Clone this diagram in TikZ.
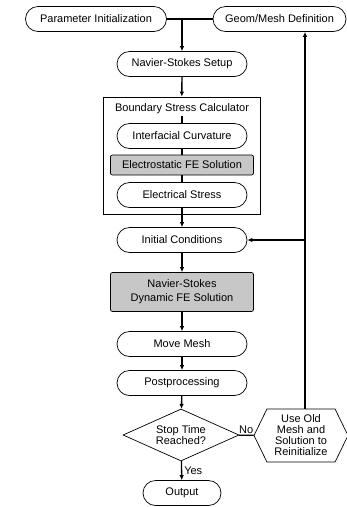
\documentclass[tikz,border=0pt]{standalone}
\usepackage{fontspec}
\setmainfont{Liberation Sans}
\usetikzlibrary{shapes.geometric,shapes.symbols,arrows.meta}

\tikzset{
  term/.style={draw, rounded corners=12.5pt, minimum width=130pt, minimum height=25pt, inner sep=0pt},
  solver/.style={draw, fill=black!22, rounded corners=2pt, minimum width=143pt, inner sep=0pt},
  flow/.style={line width=1.3pt},
  arr/.style={flow, -{Latex[length=5pt,width=4.5pt]}}
}

\begin{document}
\begin{tikzpicture}[x=1pt, y=-1pt, line width=0.7pt, font=\fontsize{11}{12}\selectfont]
\useasboundingbox (0,0) rectangle (347,507);
\node[term, minimum width=141pt] (param) at (96,19) {Parameter Initialization};
\node[term, minimum width=133pt] (geom) at (279.5,19) {Geom/Mesh Definition};
\node[term] (setup) at (182,64) {Navier-Stokes Setup};
\node[draw, minimum width=157pt, minimum height=117pt, inner sep=0pt] (bsc) at (181.5,155.5) {};
\node[inner sep=2pt] (title) at (182,109) {Boundary Stress Calculator};
\node[term] (curv) at (182,136) {Interfacial Curvature};
\node[solver, minimum height=20pt] (estat) at (182,165) {Electrostatic FE Solution};
\node[term] (estress) at (182,195) {Electrical Stress};
\node[term] (init) at (182,240) {Initial Conditions};
\node[solver, minimum height=39pt, align=center] (nsdyn) at (182,292) {Navier-Stokes\\[2pt]Dynamic FE Solution};
\node[term] (move) at (182,344) {Move Mesh};
\node[term] (post) at (182,383) {Postprocessing};
\node[draw, diamond, aspect=2.23, minimum width=116pt, minimum height=52pt, inner sep=0pt, align=center, font=\fontsize{11}{11.5}\selectfont] (stop) at (181,435) {Stop Time\\Reached?};
\node[draw, signal, signal to=west and east, signal pointer angle=128, minimum width=94pt, minimum height=53pt, inner sep=1pt, align=center, font=\fontsize{11}{11}\selectfont] (reinit) at (301,435.5) {Use Old\\Mesh and\\Solution to\\Reinitialize};
\node[term, minimum width=78pt] (output) at (182,493) {Output};
\coordinate (split) at (182,19);
\coordinate (back) at (305,240);
% main flow
\draw[flow] (param) -- (geom);
\draw[arr] (split) -- (setup);
\draw[arr] (setup) -- (bsc);
\draw[flow] (title) -- (curv);
\draw[flow] (curv) -- (estat);
\draw[flow] (estat) -- (estress);
\draw[arr] (estress) -- (init);
\draw[arr] (init) -- (nsdyn);
\draw[arr] (nsdyn) -- (move);
\draw[arr] (move) -- (post);
\draw[arr] (post) -- (stop);
\draw[arr] (stop) -- node[right, inner sep=2pt] {Yes} (output);
% loop back
\draw[flow] (stop) -- node[above, inner sep=1.5pt] {No} (reinit);
\draw[arr] (reinit.north -| back) -- (geom.south -| back);
\draw[arr] (back) -- (init);
\end{tikzpicture}
\end{document}
